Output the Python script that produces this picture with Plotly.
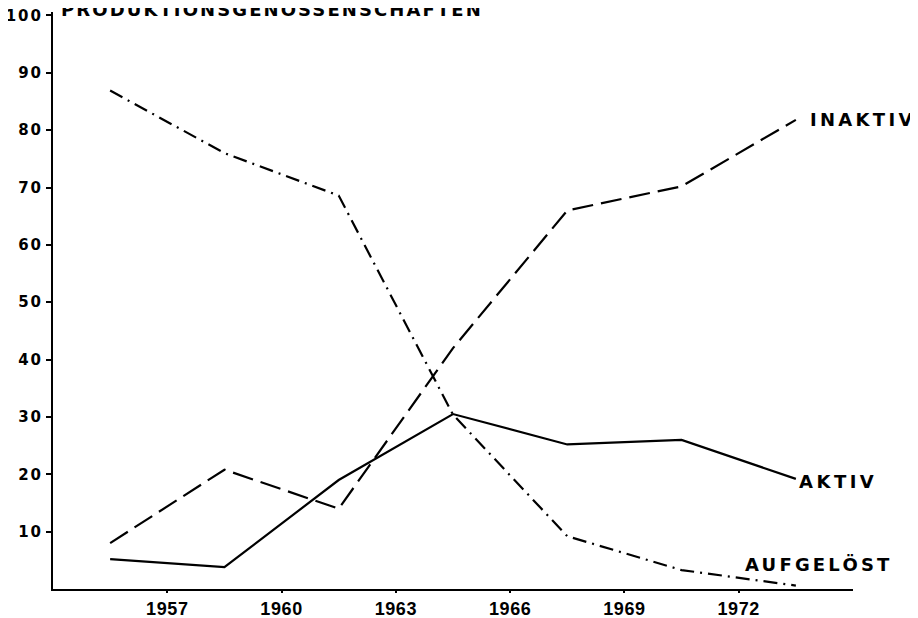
import plotly.graph_objects as go

# ---- data ----
years = [1955.5, 1958.5, 1961.5, 1964.5, 1967.5, 1970.5, 1973.5]
aktiv = [5.2, 3.8, 19.0, 30.5, 25.2, 26.0, 19.2]
inaktiv = [8.0, 20.8, 14.0, 42.0, 66.0, 70.2, 81.8]
aufgeloest = [86.9, 76.0, 68.6, 30.4, 9.2, 3.3, 0.6]

x_tick_vals = [1957, 1960, 1963, 1966, 1969, 1972]
x_tick_text = ["1957", "1960", "1963", "1966", "1969", "1972"]
y_tick_vals = [10, 20, 30, 40, 50, 60, 70, 80, 90, 100]
y_tick_text = ["10", "20", "30", "40", "50", "60", "70", "80", "90", "100"]

title_text = "PRODUKTIONSGENOSSENSCHAFTEN"
series_names = ["AKTIV", "INAKTIV", "AUFGELÖST"]

FONT = "DejaVu Sans"


def spaced(t, ls):
    return '<span style="letter-spacing:%spx">%s</span>' % (ls, t)


fig = go.Figure()
line_w = 2.2
fig.add_trace(go.Scatter(x=years, y=aktiv, mode="lines", name=series_names[0],
                         line=dict(color="black", width=line_w)))
fig.add_trace(go.Scatter(x=years, y=inaktiv, mode="lines", name=series_names[1],
                         line=dict(color="black", width=line_w, dash="21px,8px")))
fig.add_trace(go.Scatter(x=years, y=aufgeloest, mode="lines", name=series_names[2],
                         line=dict(color="black", width=line_w, dash="14px,6px,2px,6px")))

lab_font = dict(family=FONT, size=18, color="black", weight="bold")
# end labels
fig.add_annotation(x=years[-1], y=inaktiv[-1], xref="x", yref="y", text=spaced(series_names[1], 3.3),
                   showarrow=False, xanchor="left", yanchor="middle", xshift=12, font=lab_font)
fig.add_annotation(x=years[-1], y=aktiv[-1], xref="x", yref="y", text=spaced(series_names[0], 3.5),
                   showarrow=False, xanchor="left", yanchor="middle", xshift=1, yshift=-3, font=lab_font)
fig.add_annotation(x=1972.1, y=4.2, xref="x", yref="y", text=spaced(series_names[2], 3.2),
                   showarrow=False, xanchor="left", yanchor="middle", font=lab_font)
# title (clipped at the top like the reference)
fig.add_annotation(x=0.008, y=1, xref="paper", yref="paper", text=spaced(title_text, 2.1),
                   showarrow=False, xanchor="left", yanchor="middle", yshift=3, font=lab_font)

fig.update_layout(
    width=910, height=610,
    margin=dict(l=45, r=65, t=4, b=29),
    paper_bgcolor="white", plot_bgcolor="white",
    showlegend=False,
    font=dict(family=FONT, color="black"),
)
fig.update_xaxes(range=[1954, 1975], showgrid=False, zeroline=False, automargin=False,
                 showline=True, linecolor="black", linewidth=2,
                 tickmode="array", tickvals=x_tick_vals,
                 ticktext=[spaced(t, 0.6) for t in x_tick_text],
                 ticks="outside", ticklen=2, tickwidth=2, tickcolor="black",
                 ticklabeloverflow="allow",
                 tickfont=dict(family="Liberation Sans", size=18, color="black", weight="bold"))
fig.update_yaxes(range=[0, 100.6], showgrid=False, zeroline=False, automargin=False,
                 showline=True, linecolor="black", linewidth=2,
                 tickmode="array", tickvals=y_tick_vals,
                 ticktext=[spaced(t, 2) for t in y_tick_text],
                 ticks="outside", ticklen=5, tickwidth=2, tickcolor="black",
                 ticklabeloverflow="allow",
                 tickfont=dict(family=FONT, size=15, color="black", weight="bold"))

fig.write_html("out.html")
